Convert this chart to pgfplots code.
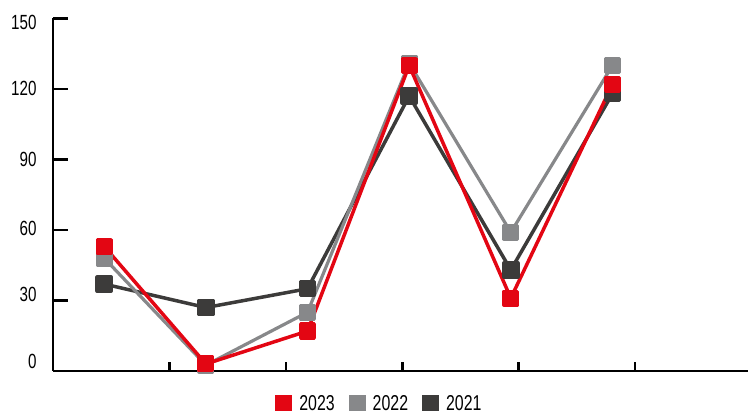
\documentclass[border=0pt]{standalone}
\usepackage{pgfplots}
\pgfplotsset{compat=1.18}
\usepackage{fontspec}
\setmainfont{Liberation Sans}[FakeStretch=0.74]
\definecolor{c23}{HTML}{E30613}
\definecolor{c22}{HTML}{87888A}
\definecolor{c21}{HTML}{3C3B3A}
\begin{document}
\begin{tikzpicture}
\useasboundingbox (-53pt,-43pt) rectangle (695pt,371pt);
\begin{axis}[
  at={(0pt,0pt)}, anchor=south west,
  scale only axis, width=698.6pt, height=352.5pt,
  xmin=0, xmax=6, ymin=0, ymax=150,
  axis lines=left,
  axis line style={-, line width=2.5pt, black},
  xtick={1,2,3,4,5}, xticklabels={},
  ytick={0,30,60,90,120,150},
  yticklabels={0,30,60,90,120,150},
  tick align=inside,
  major tick length=15pt,
  tick style={line width=2.5pt, black},
  xtick style={/pgfplots/major tick length=9pt},
  tick label style={font=\fontsize{20.5}{24}\selectfont},
  yticklabel style={anchor=east, xshift=-13pt,
    yshift={(\ticknum==0)*9.5pt + (\ticknum==1)*6pt + (\ticknum==2)*2pt + (\ticknum==4)*0.3pt + (\ticknum==5)*(-4pt)}},
  clip=false,
  legend columns=3,
  reverse legend,
  legend style={at={(0.318,-0.068)}, anchor=north west, draw=none, fill=none,
    font=\fontsize{21.5}{24}\selectfont, inner sep=0pt,
    nodes={inner sep=0pt},
    /tikz/every odd column/.append style={column sep=7pt},
    /tikz/every even column/.append style={column sep=14pt}},
  legend image code/.code={\path[draw=none, fill] (0pt,-8pt) rectangle (17pt,8pt);},
]
\addplot[c21, line width=3.5pt, line join=round, mark=square*, mark size=7pt, mark options={solid}]
  coordinates {(0.44,37) (1.313,27) (2.186,35) (3.059,117) (3.932,43) (4.805,118)};
\addlegendentry{2021}
\addplot[c22, line width=3.2pt, line join=round, mark=square*, mark size=6.8pt, mark options={solid}]
  coordinates {(0.44,48) (1.313,2.5) (2.186,25) (3.059,131) (3.932,59) (4.805,130)};
\addlegendentry{2022}
\addplot[c23, line width=3.5pt, line join=round, mark=square*, mark size=6.8pt, mark options={solid}]
  coordinates {(0.44,53) (1.313,3) (2.186,17) (3.059,130) (3.932,31) (4.805,122)};
\addlegendentry{2023}
\end{axis}
\end{tikzpicture}
\end{document}
